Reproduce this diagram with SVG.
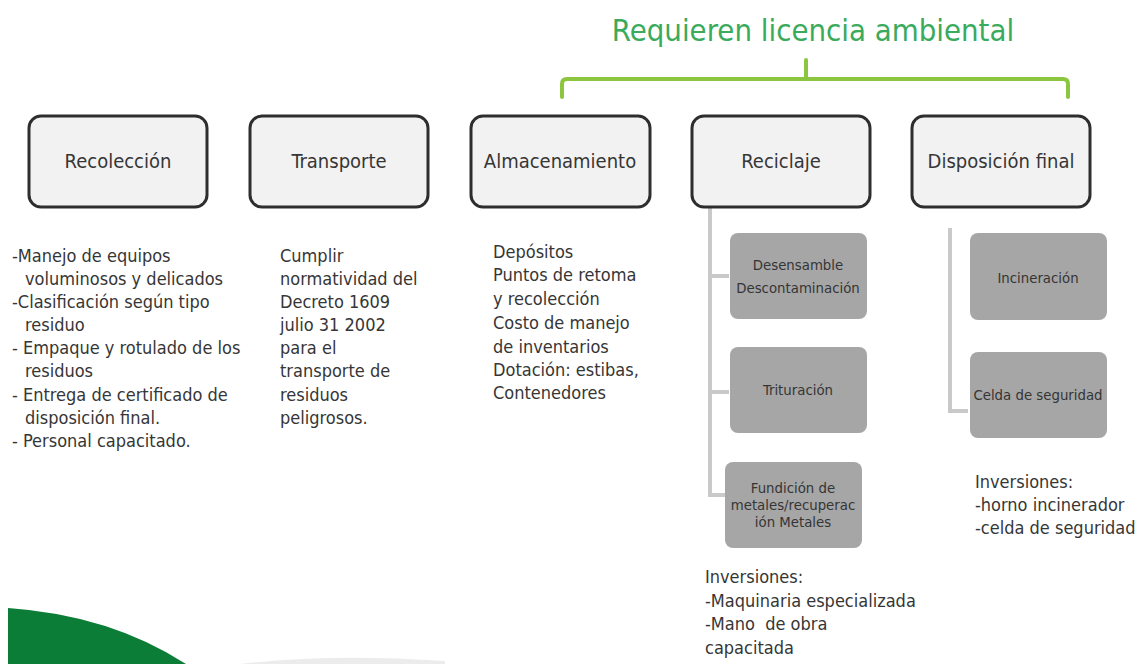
<svg xmlns="http://www.w3.org/2000/svg" width="1142" height="664" viewBox="0 0 1142 664">
<style>
text{font-family:'DejaVu Sans Condensed','DejaVu Sans',sans-serif;font-stretch:condensed;fill:#363636}
.main rect{fill:#f2f2f2;stroke:#2e2e2e;stroke-width:3}
.main text{font-size:20px;text-anchor:middle}
.sub rect{fill:#a6a6a6}
.sub text{font-size:14.8px;text-anchor:middle;fill:#353535}
.desc{font-size:18px}
.conn{fill:none;stroke:#c9c9c9;stroke-width:4}
.brace{fill:none;stroke:#8cc63f;stroke-width:4;stroke-linecap:round;stroke-linejoin:round}
</style>
<rect width="1142" height="664" fill="#ffffff"/>
<g id="decor">
<path d="M8,608 Q110,615 186,664 L8,664 Z" fill="#0b7d36"/>
<path d="M240,664 Q330,653 445,661 L445,664 Z" fill="#ececec"/>
</g>
<g id="title">
<text x="813" y="41" style="font-size:30.8px;fill:#3aaa5c" text-anchor="middle">Requieren licencia ambiental</text>
</g>
<g id="connectors">
<path class="brace" d="M562,97 L562,84 Q562,79 567,79 L1063,79 Q1068,79 1068,84 L1068,97 M806,79 L806,60"/>
<path class="conn" d="M710,207 L710,495 L726,495 M710,276 L729,276 M710,392 L729,392"/>
<path class="conn" d="M950,228 L950,411 L968,411"/>
</g>
<g id="n-recoleccion" class="main">
<rect x="29" y="116" width="178" height="91" rx="12"/>
<text x="118" y="168">Recolección</text>
</g>
<g id="n-transporte" class="main">
<rect x="250" y="116" width="178" height="91" rx="12"/>
<text x="339" y="168">Transporte</text>
</g>
<g id="n-almacenamiento" class="main">
<rect x="471" y="116" width="179" height="91" rx="12"/>
<text x="560" y="168">Almacenamiento</text>
</g>
<g id="n-reciclaje" class="main">
<rect x="692" y="116" width="178" height="91" rx="12"/>
<text x="781" y="168">Reciclaje</text>
</g>
<g id="n-disposicion" class="main">
<rect x="912" y="116" width="178" height="91" rx="12"/>
<text x="1001" y="168">Disposición final</text>
</g>
<g id="n-desensamble" class="sub">
<rect x="730" y="233" width="137" height="86" rx="8"/>
<text x="798" y="270">Desensamble</text>
<text x="798" y="293">Descontaminación</text>
</g>
<g id="n-trituracion" class="sub">
<rect x="730" y="347" width="137" height="86" rx="8"/>
<text x="798" y="395">Trituración</text>
</g>
<g id="n-fundicion" class="sub">
<rect x="725" y="462" width="137" height="86" rx="8"/>
<text x="793" y="493">Fundición de</text>
<text x="793" y="510">metales/recuperac</text>
<text x="793" y="527">ión Metales</text>
</g>
<g id="n-incineracion" class="sub">
<rect x="970" y="233" width="137" height="87" rx="8"/>
<text x="1038" y="283">Incineración</text>
</g>
<g id="n-celda" class="sub">
<rect x="970" y="352" width="137" height="86" rx="8"/>
<text x="1038" y="400">Celda de seguridad</text>
</g>
<g id="t-recoleccion">
<text x="12" y="262" class="desc">-Manejo de equipos</text>
<text x="25" y="285" class="desc">voluminosos y delicados</text>
<text x="12" y="308" class="desc">-Clasificación según tipo</text>
<text x="25" y="331" class="desc">residuo</text>
<text x="12" y="354" class="desc">- Empaque y rotulado de los</text>
<text x="25" y="377" class="desc">residuos</text>
<text x="12" y="401" class="desc">- Entrega de certificado de</text>
<text x="25" y="424" class="desc">disposición final.</text>
<text x="12" y="447" class="desc">- Personal capacitado.</text>
</g>
<g id="t-transporte">
<text x="280" y="262" class="desc">Cumplir</text>
<text x="280" y="285" class="desc">normatividad del</text>
<text x="280" y="308" class="desc">Decreto 1609</text>
<text x="280" y="331" class="desc">julio 31 2002</text>
<text x="280" y="354" class="desc">para el</text>
<text x="280" y="377" class="desc">transporte de</text>
<text x="280" y="401" class="desc">residuos</text>
<text x="280" y="424" class="desc">peligrosos.</text>
</g>
<g id="t-almacenamiento">
<text x="493" y="258" class="desc">Depósitos</text>
<text x="493" y="281" class="desc">Puntos de retoma</text>
<text x="493" y="305" class="desc">y recolección</text>
<text x="493" y="329" class="desc">Costo de manejo</text>
<text x="493" y="353" class="desc">de inventarios</text>
<text x="493" y="376" class="desc">Dotación: estibas,</text>
<text x="493" y="399" class="desc">Contenedores</text>
</g>
<g id="t-reciclaje">
<text x="705" y="583" class="desc">Inversiones:</text>
<text x="705" y="607" class="desc">-Maquinaria especializada</text>
<text x="705" y="630" class="desc" style="white-space:pre" xml:space="preserve">-Mano  de obra</text>
<text x="705" y="654" class="desc">capacitada</text>
</g>
<g id="t-disposicion">
<text x="975" y="488" class="desc">Inversiones:</text>
<text x="975" y="511" class="desc">-horno incinerador</text>
<text x="975" y="534" class="desc">-celda de seguridad</text>
</g>
</svg>
